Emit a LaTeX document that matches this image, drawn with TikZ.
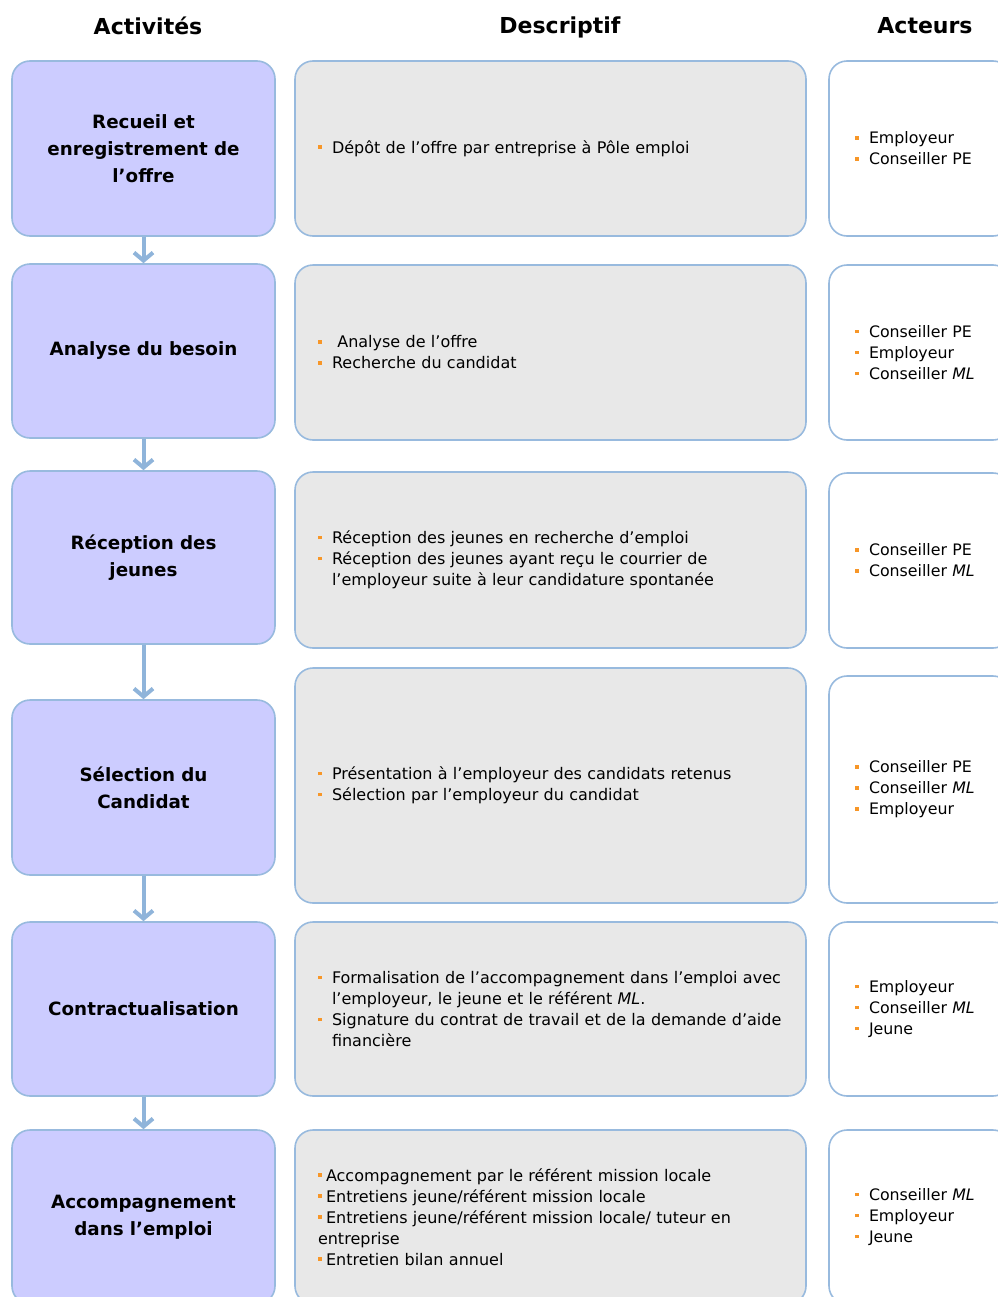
\documentclass[tikz,border=0pt]{standalone}
\usepackage{fontspec}
\setmainfont{DejaVu Sans}
\usepackage{tikz}
\usetikzlibrary{arrows.meta,positioning}

\definecolor{lavande}{RGB}{204,204,255}
\definecolor{bordbleu}{RGB}{152,186,222}
\definecolor{grisclair}{RGB}{232,232,232}
\definecolor{flechebleu}{RGB}{143,180,218}
\definecolor{puceorange}{RGB}{247,150,40}

\newcommand{\puce}{\makebox[14bp][l]{\textcolor{puceorange}{\rule[0.27em]{3.5bp}{3.5bp}}}}
\newcommand{\pucecolle}{\makebox[8bp][l]{\textcolor{puceorange}{\rule[0.27em]{3.5bp}{3.5bp}}}}
\newcommand{\suite}{\hspace*{14bp}}

\begin{document}
\begin{tikzpicture}[>=latex,
	boite/.style={rectangle, rounded corners=18bp, draw=bordbleu, line width=1.6bp},
	activite/.style={boite, fill=lavande, minimum width=263bp, text width=240bp, align=center,
		font=\fontsize{18.3bp}{27bp}\selectfont\bfseries},
	descriptif/.style={boite, fill=grisclair, inner xsep=23bp, text width=465bp, align=left,
		font=\fontsize{16bp}{21bp}\selectfont},
	acteurs/.style={boite, fill=white, inner xsep=26bp, text width=130bp, align=left,
		font=\fontsize{15.8bp}{21bp}\selectfont},
	entete/.style={font=\fontsize{22bp}{26bp}\selectfont\bfseries},
	fleche/.style={draw=flechebleu, line width=4bp, -{Straight Barb[length=8bp,width=19bp]}}]
	\useasboundingbox (0bp,0bp) rectangle (998bp,-1297bp);
	\clip (0bp,0bp) rectangle (998bp,-1297bp);

	% titres des colonnes
	\node (hact)  at (148bp,-26bp)  [entete] {Activités};
	\node (hdesc) at (560bp,-27bp)  [entete] {Descriptif};
	\node (hactr) at (925bp,-26bp)  [entete] {Acteurs};

	% activites
	\node (act1) at (143.5bp,-148.5bp)  [activite, minimum height=175bp] {Recueil et\\enregistrement de\\l’offre};
	\node (act2) at (143.5bp,-351bp)    [activite, minimum height=174bp] {Analyse du besoin};
	\node (act3) at (143.5bp,-557.5bp)  [activite, minimum height=173bp] {Réception des\\jeunes};
	\node (act4) at (143.5bp,-787.5bp)  [activite, minimum height=175bp] {Sélection du\\Candidat};
	\node (act5) at (143.5bp,-1009bp)   [activite, minimum height=174bp] {Contractualisation};
	\node (act6) at (143.5bp,-1217bp)   [activite, minimum height=174bp] {Accompagnement\\dans l’emploi};

	% descriptif
	\node (desc1) at (550.5bp,-148.5bp) [descriptif, minimum height=175bp]
		{\puce Dépôt de l’offre par entreprise à Pôle emploi};
	\node (desc2) at (550.5bp,-352.5bp) [descriptif, minimum height=175bp]
		{\puce\ Analyse de l’offre\\\puce Recherche du candidat};
	\node (desc3) at (550.5bp,-560bp)   [descriptif, minimum height=176bp]
		{\puce Réception des jeunes en recherche d’emploi\\
		 \puce Réception des jeunes ayant reçu le courrier de\\
		 \suite l’employeur suite à leur candidature spontanée};
	\node (desc4) at (550.5bp,-785.5bp) [descriptif, minimum height=235bp]
		{\puce Présentation à l’employeur des candidats retenus\\
		 \puce Sélection par l’employeur du candidat};
	\node (desc5) at (550.5bp,-1009bp)  [descriptif, minimum height=174bp]
		{\puce Formalisation de l’accompagnement dans l’emploi avec\\
		 \suite l’employeur, le jeune et le référent \textit{ML}.\\
		 \puce Signature du contrat de travail et de la demande d’aide\\
		 \suite financière};
	\node (desc6) at (550.5bp,-1217bp)  [descriptif, minimum height=174bp]
		{\pucecolle Accompagnement par le référent mission locale\\
		 \pucecolle Entretiens jeune/référent mission locale\\
		 \pucecolle Entretiens jeune/référent mission locale/ tuteur en\\
		 entreprise\\
		 \pucecolle Entretien bilan annuel};

	% acteurs
	\node (actr1) at (920bp,-148.5bp)  [acteurs, minimum height=175bp]
		{\puce Employeur\\\puce Conseiller PE};
	\node (actr2) at (920bp,-352.5bp)  [acteurs, minimum height=175bp]
		{\puce Conseiller PE\\\puce Employeur\\\puce Conseiller \textit{ML}};
	\node (actr3) at (920bp,-560.5bp)  [acteurs, minimum height=175bp]
		{\puce Conseiller PE\\\puce Conseiller \textit{ML}};
	\node (actr4) at (920bp,-789.5bp)  [acteurs, minimum height=227bp]
		{\puce Conseiller PE\\\puce Conseiller \textit{ML}\\\puce Employeur};
	\node (actr5) at (920bp,-1009bp)   [acteurs, minimum height=174bp]
		{\puce Employeur\\\puce Conseiller \textit{ML}\\\puce Jeune};
	\node (actr6) at (920bp,-1217bp)   [acteurs, minimum height=174bp]
		{\puce Conseiller \textit{ML}\\\puce Employeur\\\puce Jeune};

	% enchainement
	\draw [fleche] (act1) -- (act2);
	\draw [fleche] (act2) -- (act3);
	\draw [fleche] (act3) -- (act4);
	\draw [fleche] (act4) -- (act5);
	\draw [fleche] (act5) -- (act6);
\end{tikzpicture}
\end{document}
